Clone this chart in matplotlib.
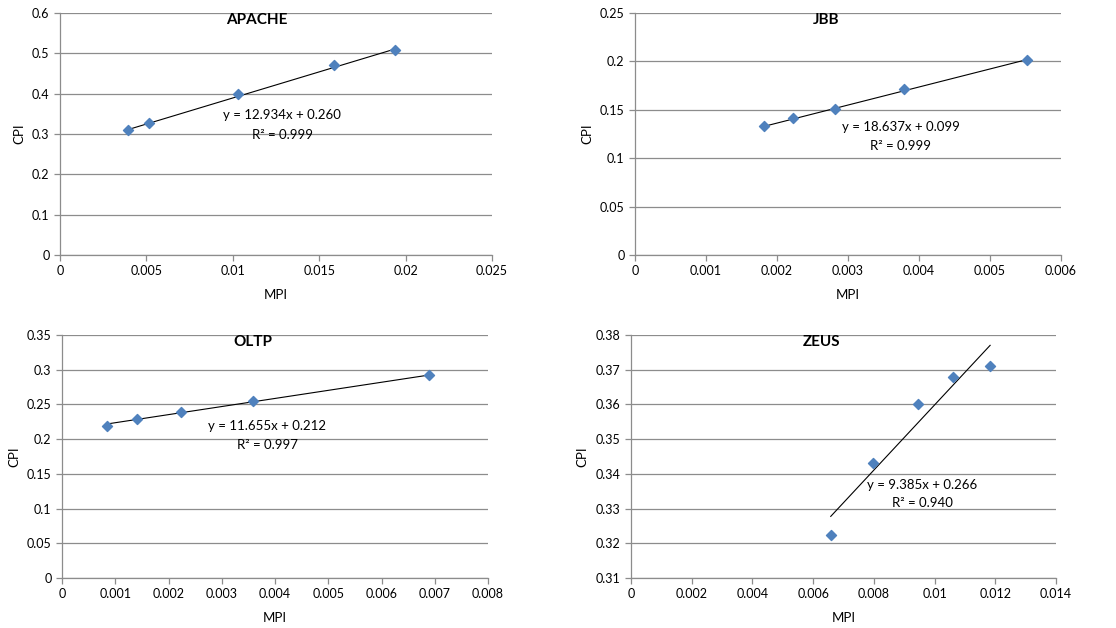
import numpy as np
import matplotlib
matplotlib.use("Agg")
from matplotlib import pyplot as plt
from matplotlib.ticker import MultipleLocator, FuncFormatter

# measured MPI / CPI per workload
names = ["APACHE", "JBB", "OLTP", "ZEUS"]
apache_mpi = [0.00393, 0.00517, 0.01029, 0.01588, 0.01941]
apache_cpi = [0.311, 0.327, 0.398, 0.470, 0.508]
jbb_mpi = [0.00182, 0.00223, 0.00281, 0.00379, 0.00552]
jbb_cpi = [0.1329, 0.1411, 0.1508, 0.1710, 0.2019]
oltp_mpi = [0.00085, 0.00141, 0.00224, 0.00358, 0.00689]
oltp_cpi = [0.2195, 0.2292, 0.2393, 0.2552, 0.2918]
zeus_mpi = [0.00658, 0.00798, 0.00947, 0.01062, 0.01183]
zeus_cpi = [0.3224, 0.3432, 0.3601, 0.3678, 0.3712]

# linear trendlines as printed on the chart
slopes = [12.934, 18.637, 11.655, 9.385]
intercepts = [0.260, 0.099, 0.212, 0.266]
r2 = [0.999, 0.999, 0.997, 0.940]

# axis settings: (ymin, ymax, ystep), (xmax, xstep)
ylims = [(0, 0.6, 0.1), (0, 0.25, 0.05), (0, 0.35, 0.05), (0.31, 0.38, 0.01)]
xlims = [(0.025, 0.005), (0.006, 0.001), (0.008, 0.001), (0.014, 0.002)]

# axes boxes in pixels (left, top, right, bottom) on a 1116x628 canvas
boxes = [(60, 13, 492, 255), (635, 13, 1061, 255),
         (62, 335, 488, 578), (631, 335, 1056, 578)]
# equation text position (axes fraction): x, y of equation, y of R²
eq_pos = [(0.514, 0.578, 0.496), (0.624, 0.529, 0.45),
          (0.482, 0.626, 0.547), (0.686, 0.382, 0.307)]

data = [(apache_mpi, apache_cpi), (jbb_mpi, jbb_cpi),
        (oltp_mpi, oltp_cpi), (zeus_mpi, zeus_cpi)]

plt.rcParams['font.family'] = ['Lato', 'DejaVu Sans']
W, H = 1116, 628
fig = plt.figure(figsize=(W / 100, H / 100), dpi=100)
fmt = FuncFormatter(lambda v, p: '{:g}'.format(round(v, 6)))
grid_c = '#8c8c8c'

for i in range(4):
    l, t, r, b = boxes[i]
    ax = fig.add_axes([l / W, 1 - b / H, (r - l) / W, (b - t) / H])
    x, y = data[i]
    x = np.array(x)
    y = np.array(y)

    xs = np.array([x.min(), x.max()])
    ax.plot(xs, slopes[i] * xs + intercepts[i], color='black', lw=0.8, zorder=2)
    ax.scatter(x, y, marker='D', s=26, color='#4F81BD', zorder=3)

    y0, y1, ys = ylims[i]
    x1, xs_ = xlims[i]
    ax.set_ylim(y0, y1)
    ax.set_xlim(0, x1)
    ax.yaxis.set_major_locator(MultipleLocator(ys))
    ax.xaxis.set_major_locator(MultipleLocator(xs_))
    ax.xaxis.set_major_formatter(fmt)
    ax.yaxis.set_major_formatter(fmt)
    ax.grid(axis='y', color=grid_c, lw=0.9)
    ax.set_axisbelow(True)
    for s in ['top', 'right']:
        ax.spines[s].set_visible(False)
    for s in ['left', 'bottom']:
        ax.spines[s].set_color(grid_c)
        ax.spines[s].set_linewidth(0.9)
    ax.tick_params(colors=grid_c, labelcolor='black', labelsize=9,
                   length=4, width=0.9, direction='out')

    ax.set_xlabel('MPI', fontsize=9.5, labelpad=8)
    ax.set_ylabel('CPI', fontsize=9.5, labelpad=5)

    tx = [0.456, 0.448, 0.448, 0.449][i]
    ax.text(tx, 0.97, names[i], transform=ax.transAxes, ha='center',
            va='center', fontsize=11, fontweight='bold')
    ex, ey, ry = eq_pos[i]
    ax.text(ex, ey, 'y = {:.3f}x + {:.3f}'.format(slopes[i], intercepts[i]),
            transform=ax.transAxes, ha='center', va='center', fontsize=9.5)
    ax.text(ex, ry, 'R² = {:.3f}'.format(r2[i]),
            transform=ax.transAxes, ha='center', va='center', fontsize=9.5)

fig.savefig('out.png', dpi=100, facecolor='white')
